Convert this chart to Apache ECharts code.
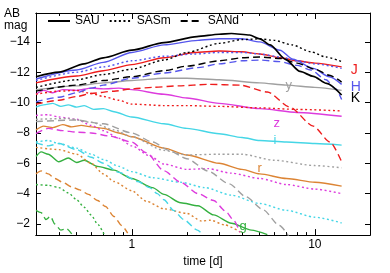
<!DOCTYPE html>
<html><head><meta charset="utf-8">
<script src="https://cdn.jsdelivr.net/npm/echarts@6/dist/echarts.min.js"></script>
<style>html,body{margin:0;padding:0;background:#fff}#c{width:390px;height:273px}</style>
</head><body><div id="c"></div>
<script>
// ---- axis settings ----
const X_MIN = 0.3, X_MAX = 20;
const Y_MIN = -15.9, Y_MAX = -1.27;
const X_MAJOR = [1, 10];
const X_MINOR = [0.4, 0.5, 0.6, 0.7, 0.8, 0.9, 2, 3, 4, 5, 6, 7, 8, 9];
const Y_TICKS = [-14, -12, -10, -8, -6, -4, -2];
const LEGEND = ['SAU', 'SASm', 'SANd'];

// ---- data: [time (d), AB mag] ----
const K_SAU = [[0.3,-11.7],[0.4,-12.0],[0.55,-12.55],[0.7,-12.95],[1,-13.45],[1.5,-13.95],[2.27,-14.35],[3,-14.5],[3.5,-14.55],[4.4,-14.45],[5,-14.2],[5.7,-13.8],[6.9,-12.85],[8.3,-12.05],[9.8,-11.73],[11.6,-11.26],[14,-10.5]];
const K_SASm = [[0.3,-11.0],[0.5,-11.5],[0.7,-11.85],[1,-12.2],[1.5,-12.8],[2,-13.3],[3,-13.9],[4,-14.15],[5,-14.2],[6,-14.1],[7.5,-13.8],[9.5,-13.35],[11.5,-13.0],[14,-12.7]];
const K_SANd = [[0.3,-10.75],[0.5,-11.15],[0.7,-11.45],[1,-11.7],[1.5,-12.1],[2,-12.4],[3,-12.75],[4,-12.95],[5,-13.0],[6.5,-12.9],[8,-12.6],[10,-12.2],[12,-11.8],[14,-11.35]];
const H_SAU = [[0.3,-11.55],[0.5,-12.15],[0.7,-12.65],[1,-13.3],[1.5,-13.8],[2.3,-14.1],[3,-14.2],[4,-14.2],[5,-14.0],[6.45,-13.45],[7.6,-12.85],[9.8,-12.25],[12,-11.7],[14,-11.2]];
const H_SASm = [[0.3,-11.45],[0.5,-12.0],[0.7,-12.35],[1,-12.75],[1.5,-13.05],[2.2,-13.2],[3,-13.3],[4,-13.3],[5,-13.2],[6.5,-13.0],[8,-12.75],[10,-12.55],[14,-12.25]];
const H_SANd = [[0.3,-10.05],[0.4,-10.35],[0.5,-10.65],[0.6,-10.95],[0.7,-11.15],[1,-11.6],[1.5,-11.95],[2.3,-12.3],[3,-12.55],[4,-12.75],[5,-12.8],[6.4,-12.7],[8,-12.45],[9.5,-12.15],[11.5,-11.5],[13,-10.9],[14,-10.2]];
const J_SAU = [[0.3,-11.3],[0.5,-11.75],[0.7,-12.1],[1,-12.5],[1.5,-12.95],[2.2,-13.3],[3,-13.4],[4,-13.35],[5,-13.2],[6.5,-12.95],[8,-12.75],[10,-12.6],[14,-12.35]];
const J_SASm = [[0.3,-10.55],[0.4,-10.75],[0.5,-10.8],[0.6,-10.6],[0.7,-10.4],[0.85,-10.15],[1,-9.9],[1.5,-9.8],[2,-9.8],[3,-9.75],[5,-9.65],[8,-9.55],[14,-9.45]];
const J_SANd = [[0.3,-9.9],[0.4,-10.15],[0.5,-10.4],[0.6,-10.6],[0.8,-10.75],[1,-10.9],[1.3,-11.0],[1.8,-11.1],[2.6,-11.2],[3.9,-11.15],[5.5,-10.7],[7.3,-9.7],[9.8,-8.45],[12.1,-7.4],[14,-6.1]];
const Y_SAU = [[0.3,-10.85],[0.5,-11.1],[0.7,-11.3],[1,-11.45],[1.5,-11.6],[2,-11.6],[3,-11.5],[5,-11.3],[7,-11.15],[10,-11.0],[14,-10.8]];
const Y_SASm = [[0.3,-8.9],[0.45,-8.95],[0.6,-8.7],[0.8,-8.2],[1,-7.75],[1.5,-6.85],[2,-6.55],[3,-6.6],[4,-6.6],[6,-6.2],[10,-5.85],[14,-5.7]];
const Y_SANd = [[0.3,-8.75],[0.5,-8.85],[0.7,-8.6],[1,-8.0],[1.3,-7.4],[1.6,-6.85],[2,-6.3],[2.6,-5.5],[3.4,-4.65],[4.2,-3.8],[5.2,-2.95],[6.4,-1.9],[7.2,-1.2]];
const Z_SAU = [[0.3,-10.55],[0.33,-10.8],[0.37,-10.65],[0.42,-10.85],[0.5,-10.8],[0.6,-10.95],[0.7,-10.9],[0.85,-10.95],[1,-10.85],[1.5,-10.55],[2,-10.3],[3,-9.95],[5,-9.6],[8,-9.35],[14,-9.1]];
const Z_SASm = [[0.3,-9.15],[0.35,-9.2],[0.4,-9.05],[0.5,-8.9],[0.6,-8.5],[0.7,-8.15],[0.85,-7.65],[1,-7.15],[1.25,-6.5],[1.5,-5.95],[2,-5.6],[2.6,-5.65],[3.5,-5.35],[5,-5.0],[7,-4.6],[10,-4.3],[14,-4.0]];
const Z_SANd = [[0.3,-7.95],[0.35,-8.3],[0.42,-8.15],[0.5,-8.05],[0.6,-8.0],[0.75,-7.8],[1,-7.4],[1.2,-6.7],[1.5,-5.5],[1.85,-4.75],[2.3,-4.0],[2.8,-3.55],[3.25,-2.85],[3.6,-2.25],[3.9,-1.45]];
const I_SAU = [[0.3,-9.7],[0.33,-9.85],[0.37,-9.95],[0.41,-9.75],[0.45,-9.85],[0.5,-9.7],[0.55,-9.8],[0.62,-9.55],[0.7,-9.6],[0.8,-9.4],[1,-9.05],[1.5,-8.6],[2,-8.3],[3,-7.95],[4,-7.7],[5,-7.5],[7,-7.4],[10,-7.3],[14,-7.2]];
const I_SASm = [[0.3,-7.4],[0.35,-7.5],[0.4,-7.3],[0.5,-7.0],[0.6,-6.6],[0.7,-6.25],[0.85,-5.8],[1,-5.45],[1.3,-5.05],[1.85,-4.75],[2.5,-4.4],[3.5,-3.9],[5,-3.35],[7,-2.9],[10,-2.45],[14,-2.07]];
const I_SANd = [[0.3,-7.35],[0.35,-7.15],[0.4,-7.3],[0.5,-6.9],[0.6,-6.4],[0.7,-6.0],[0.85,-5.4],[1.08,-4.8],[1.25,-4.4],[1.38,-4.0],[1.5,-3.6],[1.69,-2.9],[1.92,-2.3],[2.28,-1.6],[2.46,-1.25]];
const R_SAU = [[0.3,-8.2],[0.33,-8.45],[0.37,-8.35],[0.42,-8.55],[0.47,-8.4],[0.53,-8.5],[0.6,-8.4],[0.7,-8.3],[0.85,-8.0],[1,-7.75],[1.5,-7.0],[2,-6.55],[3,-6.0],[4,-5.6],[5,-5.3],[7,-5.0],[10,-4.75],[14,-4.5]];
const R_SASm = [[0.3,-7.05],[0.4,-6.9],[0.5,-6.6],[0.6,-6.0],[0.7,-5.3],[0.8,-4.8],[1,-4.2],[1.2,-3.5],[1.5,-3.0],[2,-2.7],[2.4,-2.2],[2.7,-2.25],[3.2,-1.95],[4,-1.4]];
const R_SANd = [[0.3,-5.3],[0.32,-5.5],[0.35,-5.3],[0.38,-5.0],[0.42,-4.75],[0.47,-4.45],[0.52,-4.25],[0.58,-3.95],[0.65,-3.55],[0.72,-3.15],[0.8,-2.5],[0.88,-1.9],[0.95,-1.4]];
const G_SAU = [[0.3,-6.45],[0.32,-6.75],[0.35,-6.6],[0.4,-6.1],[0.45,-6.35],[0.5,-6.05],[0.55,-6.2],[0.65,-5.8],[0.8,-5.55],[1,-5.0],[1.3,-4.4],[1.5,-3.95],[1.85,-3.4],[2.3,-3.2],[2.8,-2.6],[3.5,-2.05],[4.5,-1.6],[5.5,-1.3]];
const G_SASm = [[0.3,-4.6],[0.35,-4.55],[0.4,-4.4],[0.45,-4.05],[0.5,-3.6],[0.55,-3.1],[0.6,-2.6],[0.65,-2.0],[0.71,-1.25]];
const G_SANd = [[0.3,-2.9],[0.32,-2.75],[0.34,-2.3],[0.36,-2.5],[0.38,-2.0],[0.41,-1.6],[0.44,-1.7],[0.47,-1.35]];

// band labels: [text, time, mag]
const BAND_LABELS = [['y',7.2,-11.12],['z',6.2,-8.6],['i',6.05,-7.5],['r',5.0,-5.65],['g',4.05,-1.85]];

// ---- styles ----
const FONT = 'Liberation Sans, Arial, sans-serif';
const COL = {K:'#000000', H:'#5656ec', J:'#ee1c1c', y:'#a0a0a0', z:'#dd3bdd', i:'#45d6e6', r:'#dc8434', g:'#35b040'};
const DASH = {SAU:'solid', SASm:[2,2.6], SANd:[7,4]};

const LOG = v => Math.log10(v);
const toXY = arr => arr.map(p => [LOG(p[0]), p[1]]);

function line(name, data, band, model, extra) {
  return Object.assign({
    type:'line', name: name, data: toXY(data), symbol:'none', smooth:0.25, smoothMonotone:'x',
    silent:true, clip:true, animation:false,
    lineStyle:{color:COL[band], width: (band==='K' && model==='SAU') ? 1.7 : 1.4, type:DASH[model]},
    itemStyle:{color:COL[band]}
  }, extra || {});
}
function endLab(txt, color, dy) {
  return {endLabel:{show:true, formatter:txt, color:color, fontSize:14, fontFamily:FONT, distance:9, offset:[0,dy]}};
}

const series = [
  // legend-only series
  {type:'line', name:'SAU', data:[], symbol:'none', lineStyle:{color:'#000', width:1.5, type:'solid'}, itemStyle:{color:'#000'}},
  {type:'line', name:'SASm', data:[], symbol:'none', lineStyle:{color:'#000', width:1.5, type:DASH.SASm}, itemStyle:{color:'#000'}},
  {type:'line', name:'SANd', data:[], symbol:'none', lineStyle:{color:'#000', width:1.5, type:DASH.SANd}, itemStyle:{color:'#000'}},
  line('g SANd', G_SANd, 'g', 'SANd'), line('g SASm', G_SASm, 'g', 'SASm'), line('g SAU', G_SAU, 'g', 'SAU'),
  line('r SANd', R_SANd, 'r', 'SANd'), line('r SASm', R_SASm, 'r', 'SASm'), line('r SAU', R_SAU, 'r', 'SAU'),
  line('i SANd', I_SANd, 'i', 'SANd'), line('i SASm', I_SASm, 'i', 'SASm'), line('i SAU', I_SAU, 'i', 'SAU'),
  line('z SANd', Z_SANd, 'z', 'SANd'), line('z SASm', Z_SASm, 'z', 'SASm'), line('z SAU', Z_SAU, 'z', 'SAU'),
  line('y SANd', Y_SANd, 'y', 'SANd'), line('y SASm', Y_SASm, 'y', 'SASm'), line('y SAU', Y_SAU, 'y', 'SAU'),
  line('J SANd', J_SANd, 'J', 'SANd'), line('J SASm', J_SASm, 'J', 'SASm'), line('J SAU', J_SAU, 'J', 'SAU', endLab('J', COL.J, 3)),
  line('H SANd', H_SANd, 'H', 'SANd'), line('H SASm', H_SASm, 'H', 'SASm'), line('H SAU', H_SAU, 'H', 'SAU', endLab('H', COL.H, 3)),
  line('K SANd', K_SANd, 'K', 'SANd'), line('K SASm', K_SASm, 'K', 'SASm'), line('K SAU', K_SAU, 'K', 'SAU', endLab('K', COL.K, 3)),
  {type:'scatter', name:'bands', data:[], symbolSize:0, silent:true,
   markPoint:{symbol:'circle', symbolSize:0, animation:false,
     data: BAND_LABELS.map(b => ({coord:[LOG(b[1]), b[2]], value:b[0],
       label:{show:true, position:'inside', formatter:b[0], color:COL[b[0]], fontSize:13, fontFamily:FONT}}))}}
];

const axisCommon = {type:'value', min:LOG(X_MIN), max:LOG(X_MAX), splitLine:{show:false}};
function xAx(pos, vals, len, labels) {
  return Object.assign({}, axisCommon, {
    position:pos,
    axisLine:{show:true, onZero:false, lineStyle:{color:'#000', width:1}},
    axisTick:{show:true, inside:true, length:len, customValues:vals.map(LOG), lineStyle:{color:'#000', width:1}},
    axisLabel:labels ? {show:true, customValues:X_MAJOR.map(LOG), formatter:v => String(Math.round(Math.pow(10, v))), color:'#000', fontSize:12, fontFamily:FONT, margin:4} : {show:false}
  }, labels ? {name:'time [d]', nameLocation:'middle', nameGap:20, nameTextStyle:{color:'#000', fontSize:12, fontFamily:FONT}} : {});
}
function yAx(pos, labels) {
  return {
    type:'value', inverse:true, min:Y_MIN, max:Y_MAX, position:pos, splitLine:{show:false},
    axisLine:{show:true, onZero:false, lineStyle:{color:'#000', width:1}},
    axisTick:{show:true, inside:true, length:5, customValues:Y_TICKS, lineStyle:{color:'#000', width:1}},
    axisLabel:labels ? {show:true, customValues:Y_TICKS, formatter:v => '\u2212' + Math.abs(v), color:'#000', fontSize:12, fontFamily:FONT, margin:6} : {show:false}
  };
}

const chart = echarts.init(document.getElementById('c'), null, {renderer:'canvas'});
chart.setOption({
  animation:false,
  backgroundColor:'#fff',
  grid:{left:36, top:13, width:334, height:230, containLabel:false},
  legend:{data:LEGEND, left:47, top:15, itemWidth:22, itemHeight:12, itemGap:9, padding:0,
    itemStyle:{opacity:0},
    textStyle:{color:'#000', fontSize:12, fontFamily:FONT}, selectedMode:false},
  xAxis:[xAx('bottom', X_MAJOR, 6, true), xAx('bottom', X_MINOR, 3, false), xAx('top', X_MAJOR, 6, false), xAx('top', X_MINOR, 3, false)],
  yAxis:[yAx('left', true), yAx('right', false)],
  graphic:[{type:'text', left:4, top:8, style:{text:'AB\nmag', fill:'#000', fontSize:12, fontFamily:FONT, lineHeight:12, align:'center', x:10}}],
  series:series
});
</script></body></html>
